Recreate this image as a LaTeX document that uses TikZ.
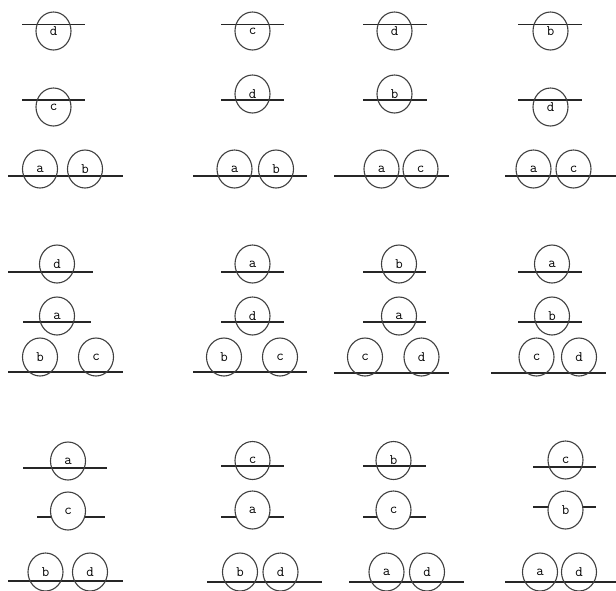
\documentclass[tikz,border=0pt]{standalone}
\usepackage{tikz}
\usetikzlibrary{shapes.geometric}

\tikzset{
    ball/.style = {draw=black!75, ellipse, line width=1.1pt, minimum width=35pt,
                   minimum height=38pt, inner sep=0pt,
                   font=\ttfamily\fontsize{14.5}{14.5}\selectfont},
    hidball/.style = {ball, fill=white},
    shelf/.style = {line width=1.1pt, black!85}
}

\begin{document}
\begin{tikzpicture}[x=1pt, y=-1pt]
    \useasboundingbox (0,0) rectangle (616,590);

    % row 1
    \draw [shelf] (22,24.5) -- (85,24.5);
    \draw [shelf] (22,100) -- (85,100);
    \draw [shelf] (8,176) -- (123,176);
    \node[ball] (d1) at (53.5,31) {d};
    \node[ball] (c1) at (53.5,107) {c};
    \node[ball] (a1) at (40,169) {a};
    \node[ball] (b1) at (85,169) {b};

    \draw [shelf] (221,24.5) -- (284,24.5);
    \draw [shelf] (221,100) -- (284,100);
    \draw [shelf] (193,176) -- (307,176);
    \node[ball] (c2) at (252.5,31) {c};
    \node[ball] (d2) at (252.5,94) {d};
    \node[ball] (a2) at (234.5,169) {a};
    \node[ball] (b2) at (276,169) {b};

    \draw [shelf] (363,24.5) -- (427,24.5);
    \draw [shelf] (363,100) -- (427,100);
    \draw [shelf] (334,176) -- (449,176);
    \node[ball] (d3) at (394.5,31) {d};
    \node[ball] (b3) at (394.5,94) {b};
    \node[ball] (a3) at (381.5,169) {a};
    \node[ball] (c3) at (420.5,169) {c};

    \draw [shelf] (518,24.5) -- (582,24.5);
    \draw [shelf] (518,100) -- (582,100);
    \draw [shelf] (505,176) -- (616,176);
    \node[ball] (b4) at (550.5,31) {b};
    \node[ball] (d4) at (550.5,107) {d};
    \node[ball] (a4) at (533.5,169) {a};
    \node[ball] (c4) at (573.5,169) {c};

    % row 2
    \draw [shelf] (8,272) -- (93,272);
    \draw [shelf] (23,322) -- (91,322);
    \draw [shelf] (8,372) -- (123,372);
    \node[ball] (d5) at (57,264) {d};
    \node[ball] (a5) at (57,316) {a};
    \node[ball] (b5) at (40,357) {b};
    \node[ball] (c5) at (96,357) {c};

    \draw [shelf] (221,272) -- (284,272);
    \draw [shelf] (221,322) -- (284,322);
    \draw [shelf] (193,372) -- (307,372);
    \node[ball] (a6) at (252.5,264) {a};
    \node[ball] (d6) at (252.5,316) {d};
    \node[ball] (b6) at (224,357) {b};
    \node[ball] (c6) at (280,357) {c};

    \draw [shelf] (363,272) -- (426,272);
    \draw [shelf] (363,322) -- (426,322);
    \draw [shelf] (334,373) -- (449,373);
    \node[ball] (b7) at (399,264) {b};
    \node[ball] (a7) at (399,316) {a};
    \node[ball] (c7) at (365,357) {c};
    \node[ball] (d7) at (421.5,357) {d};

    \draw [shelf] (518,272) -- (582,272);
    \draw [shelf] (518,322) -- (582,322);
    \draw [shelf] (491,373) -- (606,373);
    \node[ball] (a8) at (552,264) {a};
    \node[ball] (b8) at (552,316) {b};
    \node[ball] (c8) at (536.5,357) {c};
    \node[ball] (d8) at (579,357) {d};

    % row 3
    \draw [shelf] (23,468) -- (107,468);
    \draw [shelf] (37,517) -- (105,517);
    \draw [shelf] (8,581) -- (123,581);
    \node[ball] (a9) at (68,461) {a};
    \node[hidball] (c9) at (68,511) {c};
    \node[ball] (b9) at (45.5,572) {b};
    \node[ball] (d9) at (90,572) {d};

    \draw [shelf] (221,466) -- (284,466);
    \draw [shelf] (221,517) -- (284,517);
    \draw [shelf] (207,582) -- (322,582);
    \node[ball] (c10) at (252.5,460.5) {c};
    \node[hidball] (a10) at (252.5,510) {a};
    \node[ball] (b10) at (240,572) {b};
    \node[ball] (d10) at (280.5,572) {d};

    \draw [shelf] (363,466) -- (426,466);
    \draw [shelf] (363,517) -- (426,517);
    \draw [shelf] (349,582) -- (464,582);
    \node[ball] (b11) at (393.5,460.5) {b};
    \node[hidball] (c11) at (393.5,510) {c};
    \node[ball] (a11) at (386.5,572) {a};
    \node[ball] (d11) at (427,572) {d};

    \draw [shelf] (533,467) -- (596,467);
    \draw [shelf] (533,507) -- (596,507);
    \draw [shelf] (505,582) -- (616,582);
    \node[ball] (c12) at (565.5,460) {c};
    \node[hidball] (b12) at (565.5,510) {b};
    \node[ball] (a12) at (540,572) {a};
    \node[ball] (d12) at (579,572) {d};
\end{tikzpicture}
\end{document}
